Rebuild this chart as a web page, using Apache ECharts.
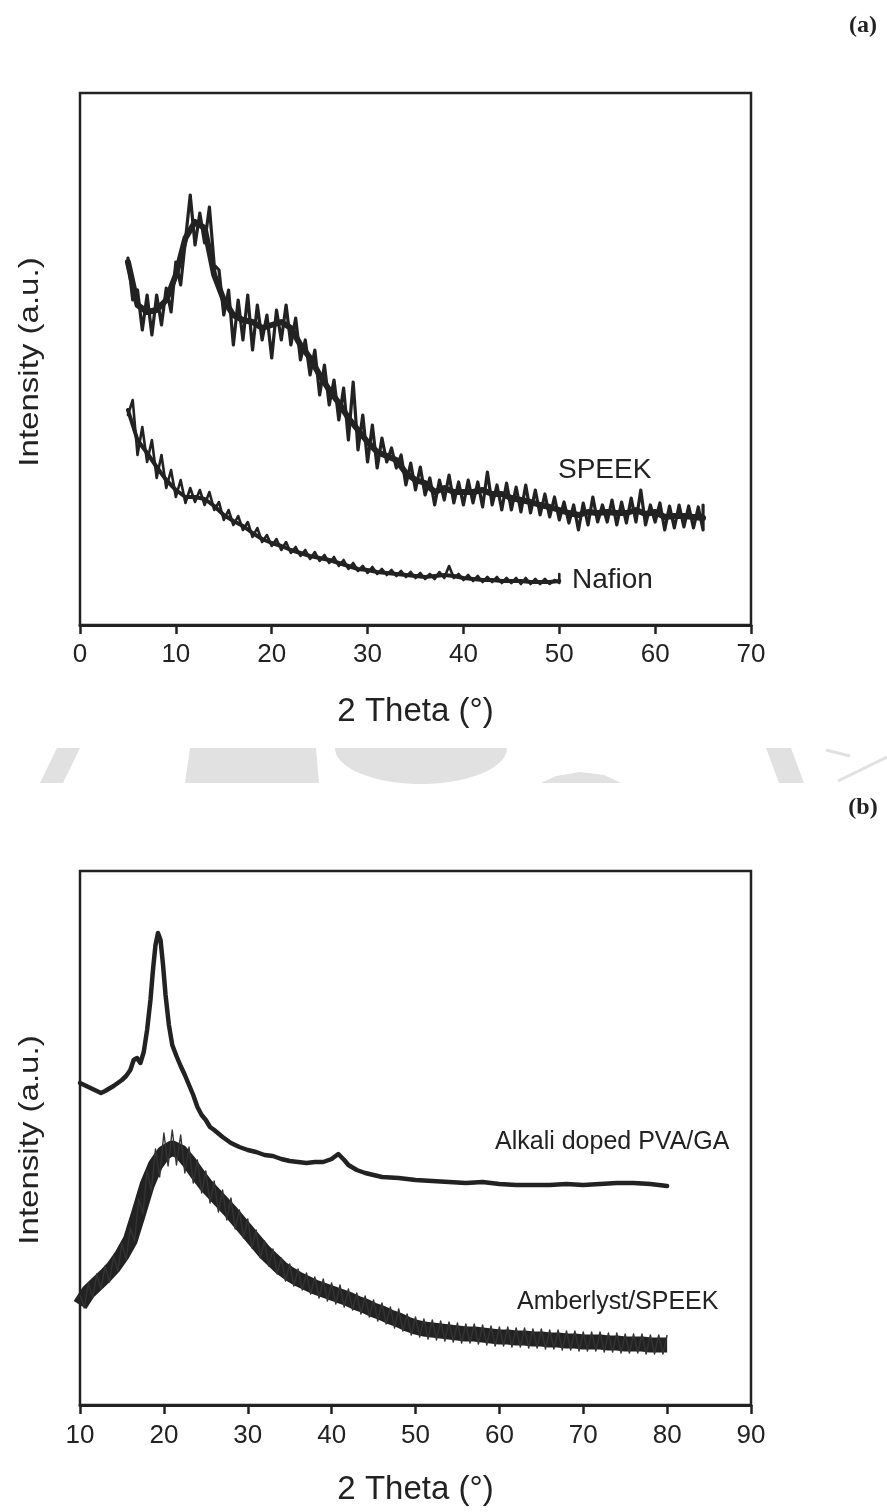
<!DOCTYPE html>
<html>
<head>
<meta charset="utf-8">
<script src="https://cdn.jsdelivr.net/npm/echarts@6/dist/echarts.min.js"></script>
<style>
html,body{margin:0;padding:0;background:#fff;}
#chart{width:887px;height:1512px;}
</style>
</head>
<body>
<div id="chart"></div>
<script>
// ---------- DATA (2 Theta in degrees, intensity in arbitrary units) ----------
const ticksA = [0, 10, 20, 30, 40, 50, 60, 70];
const ticksB = [10, 20, 30, 40, 50, 60, 70, 80, 90];

// SPEEK: noisy trace (peaks and troughs of the noise) and its mid-band
const speek = [[5,367],[5.5,325],[6,335],[6.5,295],[7,330],[7.5,290],[8,330],[8.5,300],[9,337],[9.5,313],[10,363],[10.5,340],[11,385],[11.5,430],[12,380],[12.5,412],[13,382],[13.5,418],[14,360],[14.5,355],[15,310],[15.5,335],[16,280],[16.5,325],[17,285],[17.5,330],[18,275],[18.5,320],[19,285],[19.5,310],[20,267],[20.5,315],[21,285],[21.5,320],[22,280],[22.5,307],[23,265],[23.5,285],[24,250],[24.5,275],[25,230],[25.5,260],[26,220],[26.5,245],[27,205],[27.5,237],[28,185],[28.5,243],[29,175],[29.5,210],[30,163],[30.5,200],[31,157],[31.5,187],[32,163],[32.5,177],[33,157],[33.5,170],[34,140],[34.5,162],[35,135],[35.5,158],[36,130],[36.5,147],[37,120],[37.5,145],[38,125],[38.5,150],[39,122],[39.5,143],[40,120],[40.5,145],[41,122],[41.5,143],[42,118],[42.5,153],[43,120],[43.5,140],[44,115],[44.5,142],[45,115],[45.5,138],[46,113],[46.5,140],[47,112],[47.5,135],[48,110],[48.5,131],[49,108],[49.5,128],[50,105],[50.5,123],[51,102],[51.5,120],[52,95],[52.5,122],[53,100],[53.5,128],[54,103],[54.5,120],[55,103],[55.5,125],[56,100],[56.5,123],[57,102],[57.5,127],[58,103],[58.5,135],[59,100],[59.5,120],[60,103],[60.5,122],[61,95],[61.5,119],[62,97],[62.5,120],[63,98],[63.5,119],[64,97],[64.5,118],[65,95],[65,120]];
const speekBand = [[5,363],[6,320],[7,313],[8,315],[9,325],[10,350],[11,387],[12,403],[13,397],[14,350],[15,325],[16,310],[17,305],[18,303],[19,297],[20,300],[21,303],[22,297],[23,280],[24,267],[25,250],[26,235],[27,222],[28,207],[29,195],[30,183],[31,173],[32,169],[33,165],[34,152],[35,145],[36,142],[37,133],[38,137],[39,133],[40,133],[41,133],[42,135],[43,131],[44,131],[45,127],[46,125],[47,123],[48,120],[49,118],[50,115],[51,112],[52,110],[53,113],[54,112],[55,113],[56,112],[57,112],[58,115],[59,111],[60,113],[61,108],[62,109],[63,109],[64,108],[65,107]];

// Nafion: noisy trace and mid-band
const nafion = [[5,210],[5.5,225],[6,170],[6.5,198],[7,163],[7.5,185],[8,147],[8.5,170],[9,137],[9.5,155],[10,128],[10.5,145],[11,122],[11.5,137],[12,123],[12.5,135],[13,120],[13.5,133],[14,115],[14.5,123],[15,105],[15.5,115],[16,100],[16.5,109],[17,95],[17.5,103],[18,88],[18.5,97],[19,83],[19.5,90],[20,79],[20.5,86],[21,75],[21.5,83],[22,72],[22.5,78],[23,69],[23.5,75],[24,66],[24.5,73],[25,64],[25.5,70],[26,62],[26.5,68],[27,59],[27.5,65],[28,56],[28.5,62],[29,54],[29.5,59],[30,52],[30.5,58],[31,51],[31.5,56],[32,50],[32.5,55],[33,49],[33.5,54],[34,48],[34.5,53],[35,47],[35.5,52],[36,46],[36.5,51],[37,46],[37.5,53],[38,47],[38.5,59],[39,47],[39.5,51],[40,45],[40.5,50],[41,44],[41.5,49],[42,43],[42.5,48],[43,43],[43.5,48],[44,42],[44.5,47],[45,42],[45.5,47],[46,41],[46.5,47],[47,41],[47.5,46],[48,41],[48.5,46],[49,41],[49.5,45],[50,42],[50,51]];
const nafionBand = [[5,215],[6,185],[7,172],[8,158],[9,145],[10,135],[11,128],[12,128],[13,126],[14,119],[15,110],[16,104],[17,99],[18,92],[19,86],[20,82],[21,79],[22,75],[23,72],[24,69],[25,67],[26,65],[27,62],[28,59],[29,56],[30,55],[31,53],[32,52],[33,51],[34,50],[35,49],[36,48],[37,49],[38,50],[39,49],[40,47],[41,46],[42,45],[43,45],[44,44],[45,44],[46,44],[47,43],[48,43],[49,43],[50,44]];

const alkali = [[10,322],[11,318],[12,314],[12.5,312],[13,314],[14,319],[15,325],[15.5,329],[16,335],[16.4,345],[16.8,347],[17.2,342],[17.6,353],[18,375],[18.4,405],[18.7,435],[19,460],[19.3,472],[19.6,465],[19.9,440],[20.2,410],[20.6,380],[21,360],[21.5,349],[22,339],[22.5,330],[23,320],[23.5,310],[24,298],[24.5,290],[25,285],[25.5,278],[26,275],[27,268],[28,262],[29,258],[30,255],[31,253],[32,250],[33,249],[34,246],[35,244],[36,243],[37,242],[38,243],[39,243],[40,246],[40.8,251],[41.5,245],[42,240],[43,235],[44,232],[45,230],[46,228],[48,227],[50,225],[52,224],[54,223],[56,222],[58,223],[60,221],[62,220],[64,220],[66,220],[68,221],[70,220],[72,221],[74,222],[76,222],[78,221],[80,219]];

const amberlystCenter = [[10,100],[11,113],[12,121],[13,129],[14,138],[15,150],[16,165],[17,192],[18,220],[19,240],[20,252],[21,257],[22,253],[23,243],[24,231],[25,220],[26,211],[27,202],[28,193],[29,183],[30,173],[31,163],[32,153],[33,145],[34,137],[35,131],[36,126],[37,122],[38,118],[39,115],[40,112],[41,109],[42,106],[43,102],[44,99],[45,95],[46,92],[47,88],[48,85],[49,81],[50,78],[51,76],[52,75],[53,74],[54,73],[55,72],[56,71],[57,71],[58,70],[59,69],[60,68],[61,68],[62,67],[63,67],[64,66],[65,66],[66,65],[67,65],[68,64],[69,64],[70,63],[71,63],[72,63],[73,62],[74,62],[75,61],[76,61],[77,61],[78,60],[79,60],[80,60]];

const amberlystSpikes = [[10,110],[10.5,97],[11,122],[11.5,107],[12,131],[12.5,116],[13,139],[13.5,123],[14,149],[14.5,134],[15,162],[15.5,145],[16,177],[16.5,164],[17,206],[17.5,191],[18,235],[18.5,214],[19,256],[19.5,228],[20,272],[20.5,239],[21,275],[21.5,240],[22,270],[22.5,232],[23,258],[23.5,222],[24,245],[24.5,212],[25,234],[25.5,202],[26,224],[26.5,193],[27,215],[27.5,185],[28,207],[28.5,176],[29,195],[29.5,167],[30,186],[30.5,157],[31,175],[31.5,147],[32,164],[32.5,139],[33,156],[33.5,131],[34,147],[34.5,124],[35,141],[35.5,119],[36,136],[36.5,115],[37,132],[37.5,111],[38,128],[38.5,107],[39,126],[39.5,104],[40,122],[40.5,101],[41,120],[41.5,98],[42,116],[42.5,95],[43,112],[43.5,91],[44,109],[44.5,88],[45,105],[45.5,84],[46,102],[46.5,81],[47,98],[47.5,77],[48,96],[48.5,74],[49,91],[49.5,70],[50,88],[50.5,68],[51,86],[51.5,66],[52,85],[52.5,65],[53,84],[53.5,64],[54,83],[54.5,63],[55,82],[55.5,62],[56,81],[56.5,62],[57,81],[57.5,61],[58,80],[58.5,60],[59,79],[59.5,59],[60,78],[60.5,59],[61,78],[61.5,58],[62,77],[62.5,58],[63,77],[63.5,57],[64,76],[64.5,57],[65,76],[65.5,56],[66,75],[66.5,56],[67,75],[67.5,55],[68,74],[68.5,55],[69,74],[69.5,54],[70,73],[70.5,54],[71,73],[71.5,54],[72,73],[72.5,53],[73,72],[73.5,53],[74,72],[74.5,52],[75,71],[75.5,52],[76,71],[76.5,52],[77,71],[77.5,51],[78,70],[78.5,51],[79,70],[79.5,51],[80,70]];

// ---------- STYLE ----------
const INK = '#222';
const SANS = '"Liberation Sans", Arial, sans-serif';
const SERIF = '"Liberation Serif", "Times New Roman", serif';

function xAxisCfg(grid, ticks, margin, gap) {
  return {
    gridIndex: grid, type: 'value',
    min: ticks[0], max: ticks[ticks.length - 1], interval: ticks[1] - ticks[0],
    axisLine: {show: true, onZero: false, lineStyle: {color: INK, width: 3}},
    axisTick: {show: true, length: 9, lineStyle: {color: INK, width: 2.5}},
    axisLabel: {fontSize: 26, color: INK, fontFamily: SANS, margin: margin},
    splitLine: {show: false},
    name: '2 Theta (°)', nameLocation: 'middle', nameGap: gap,
    nameTextStyle: {fontSize: 33, color: INK, fontFamily: SANS}
  };
}
function yAxisCfg(grid, max) {
  return {
    gridIndex: grid, type: 'value', min: 0, max: max,
    axisLine: {show: false}, axisTick: {show: false},
    axisLabel: {show: false}, splitLine: {show: false}
  };
}
function lineSeries(xi, data, width, color, z, cap) {
  return {
    type: 'line', xAxisIndex: xi, yAxisIndex: xi, data: data,
    showSymbol: false, symbol: 'none', smooth: false, z: z || 2,
    lineStyle: {color: color || INK, width: width, join: 'round', cap: cap || 'round'},
    emphasis: {disabled: true}, silent: true
  };
}
function label(text, x, y, size, opts) {
  return Object.assign({
    type: 'text', x: x, y: y, silent: true, z: 10,
    style: {text: text, fill: INK, fontSize: size, fontFamily: SANS,
            align: 'left', verticalAlign: 'middle',
            textAlign: 'left', textVerticalAlign: 'middle'}
  }, opts || {});
}
function centered(text, x, y, size, family, weight, extra) {
  return Object.assign({
    type: 'text', x: x, y: y, silent: true, z: 10,
    style: {text: text, fill: INK, fontSize: size, fontFamily: family, fontWeight: weight || 'normal',
            align: 'center', verticalAlign: 'middle', textAlign: 'center', textVerticalAlign: 'middle'}
  }, extra || {});
}

// watermark shapes (light grey band between the panels)
const WM = '#e1e1e1';
const bowl = [];
for (let i = 0; i <= 40; i++) {
  const t = Math.PI * i / 40;
  bowl.push([421 + 86 * Math.cos(t), 748 + 36 * Math.sin(t)]);
}
const watermark = [
  {type: 'polygon', shape: {points: [[40,783],[63,783],[80,748],[57,748]]}, style: {fill: WM}, z: 0, silent: true},
  {type: 'polygon', shape: {points: [[190,748],[316,748],[319,783],[185,783]]}, style: {fill: WM}, z: 0, silent: true},
  {type: 'polygon', shape: {points: bowl}, style: {fill: WM}, z: 0, silent: true},
  {type: 'polygon', shape: {points: [[541,783],[556,776],[580,772],[604,775],[621,783]]}, style: {fill: WM}, z: 0, silent: true},
  {type: 'polygon', shape: {points: [[766,748],[791,748],[804,783],[779,783]]}, style: {fill: WM}, z: 0, silent: true},
  {type: 'polyline', shape: {points: [[838,781],[887,757]]}, style: {stroke: WM, lineWidth: 3}, z: 0, silent: true},
  {type: 'polyline', shape: {points: [[826,750],[850,756]]}, style: {stroke: WM, lineWidth: 3}, z: 0, silent: true}
];

const chart = echarts.init(document.getElementById('chart'), null, {renderer: 'canvas'});
chart.setOption({
  animation: false,
  backgroundColor: '#ffffff',
  grid: [
    {left: 80, top: 93, width: 671, height: 532, show: true, borderColor: INK, borderWidth: 2.5, backgroundColor: 'transparent'},
    {left: 80, top: 871, width: 671, height: 534, show: true, borderColor: INK, borderWidth: 2.5, backgroundColor: 'transparent'}
  ],
  xAxis: [xAxisCfg(0, ticksA, 17, 70), xAxisCfg(1, ticksB, 18, 68)],
  yAxis: [yAxisCfg(0, 532), yAxisCfg(1, 534)],
  series: [
    lineSeries(0, speekBand, 6),
    lineSeries(0, speek, 3.2),
    lineSeries(0, nafionBand, 4),
    lineSeries(0, nafion, 2.6),
    lineSeries(1, alkali, 4.5),
    lineSeries(1, amberlystCenter, 15, INK, 2, 'butt'),
    lineSeries(1, amberlystSpikes, 1.4, '#333', 3, 'butt')
  ],
  graphic: watermark.concat([
    label('SPEEK', 558, 470, 28),
    label('Nafion', 572, 580, 28),
    label('Alkali doped PVA/GA', 495, 1142, 25),
    label('Amberlyst/SPEEK', 517, 1302, 25),
    centered('Intensity (a.u.)', 30, 362, 28, SANS, 'normal', {rotation: Math.PI / 2, scaleX: 1.18}),
    centered('Intensity (a.u.)', 30, 1140, 28, SANS, 'normal', {rotation: Math.PI / 2, scaleX: 1.18}),
    centered('(a)', 863, 26, 24, SERIF, 'bold'),
    centered('(b)', 863, 808, 24, SERIF, 'bold')
  ])
});
</script>
</body>
</html>
